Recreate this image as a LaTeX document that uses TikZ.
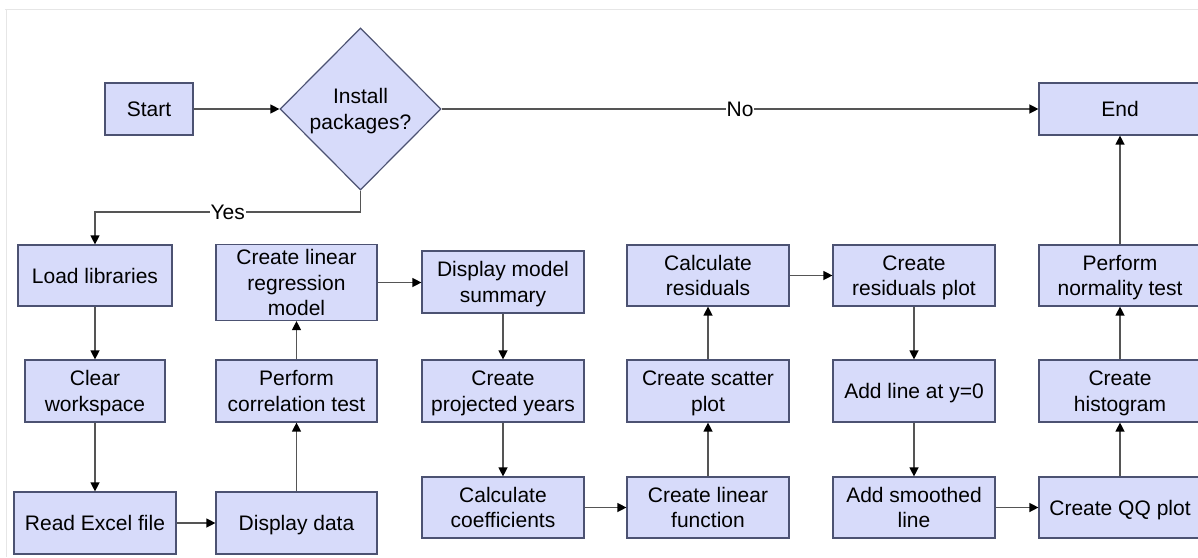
\documentclass[tikz,border=0pt]{standalone}
\usepackage{fontspec}
\setmainfont{Liberation Sans}
\usetikzlibrary{arrows.meta,shapes.geometric}

\definecolor{boxfill}{HTML}{D7DBFA}
\definecolor{boxline}{HTML}{4C5272}
\definecolor{flowline}{HTML}{555555}
\definecolor{framegray}{HTML}{E6E6E6}

% line strut whose height and depth are balanced around the capital letters
\newcommand\ls{\rule[-5pt]{0pt}{25pt}}

\tikzset{
  stepbox/.style={draw=boxline, fill=boxfill, line width=1.2pt, rectangle,
    inner sep=0pt, align=center, font=\fontsize{21}{25.5}\selectfont},
  decision/.style={draw=boxline, fill=boxfill, line width=1.2pt, diamond, aspect=1,
    inner sep=0pt, minimum width=161pt, minimum height=162pt, align=center,
    font=\fontsize{21}{25.5}\selectfont},
  flow/.style={draw=flowline, line width=1.3pt,
    -{Triangle[length=9pt,width=9pt,fill=black,color=black]}},
  edgelabel/.style={fill=white, inner sep=1pt, font=\fontsize{21}{25.5}\selectfont}
}

\begin{document}
\begin{tikzpicture}[x=1pt,y=-1pt]
\useasboundingbox (0,0) rectangle (1198,557);
\clip (0,0) rectangle (1198,557);
\fill[white] (0,0) rectangle (1198,557);
% thin page frame
\draw[framegray, line width=1pt] (5,9) -- (1198,9);
\draw[framegray, line width=1pt] (6,9) -- (6,557);

% top row
\node[stepbox, minimum width=88pt, minimum height=52pt] (start) at (149,109) {\ls Start\ls};
\node[decision] (dia) at (360.5,109) {\ls Install\\packages?\ls};
\node[stepbox, minimum width=162pt, minimum height=52pt] (end) at (1120,109) {\ls End\ls};

% column 1
\node[stepbox, minimum width=154pt, minimum height=61pt] (load) at (95,275.5) {\ls Load libraries\ls};
\node[stepbox, minimum width=140pt, minimum height=62pt] (clear) at (95,391) {\ls Clear\\workspace\ls};
\node[stepbox, minimum width=162pt, minimum height=62pt] (read) at (95,523) {\ls Read Excel file\ls};

% column 2
\node[stepbox, minimum width=161pt, minimum height=75pt] (lrm) at (296.5,282.5) {\ls Create linear\\regression\\model\ls};
\node[stepbox, minimum width=161pt, minimum height=62pt] (corr) at (296.5,391) {\ls Perform\\correlation test\ls};
\node[stepbox, minimum width=161pt, minimum height=62pt] (disp) at (296.5,523) {\ls Display data\ls};

% column 3
\node[stepbox, minimum width=162pt, minimum height=62pt] (summ) at (503,282) {\ls Display model\\summary\ls};
\node[stepbox, minimum width=162pt, minimum height=62pt] (proj) at (503,391) {\ls Create\\projected years\ls};
\node[stepbox, minimum width=162pt, minimum height=61pt] (coef) at (503,507.5) {\ls Calculate\\coefficients\ls};

% column 4
\node[stepbox, minimum width=162pt, minimum height=61pt] (resid) at (708,275.5) {\ls Calculate\\residuals\ls};
\node[stepbox, minimum width=162pt, minimum height=62pt] (scat) at (708,391) {\ls Create scatter\\plot\ls};
\node[stepbox, minimum width=162pt, minimum height=61pt] (linf) at (708,507.5) {\ls Create linear\\function\ls};

% column 5
\node[stepbox, minimum width=162pt, minimum height=61pt] (rplot) at (914,275.5) {\ls Create\\residuals plot\ls};
\node[stepbox, minimum width=162pt, minimum height=62pt] (addl) at (914,391) {\ls Add line at y=0\ls};
\node[stepbox, minimum width=162pt, minimum height=61pt] (smooth) at (914,507.5) {\ls Add smoothed\\line\ls};

% column 6
\node[stepbox, minimum width=162pt, minimum height=61pt] (norm) at (1120,275.5) {\ls Perform\\normality test\ls};
\node[stepbox, minimum width=162pt, minimum height=62pt] (hist) at (1120,391) {\ls Create\\histogram\ls};
\node[stepbox, minimum width=162pt, minimum height=61pt] (qq) at (1120,507.5) {\ls Create QQ plot\ls};

% connectors
\draw[flow] (start) -- (dia);
\draw[flow] (dia.east) -- node[edgelabel] {No} (end.west);
\draw[flow] (dia.south) -- (dia.south |- 0,212) -- node[edgelabel] {Yes} (load.north |- 0,212) -- (load.north);

\draw[flow] (load) -- (clear);
\draw[flow] (clear) -- (read);
\draw[flow] (read) -- (disp);
\draw[flow] (disp) -- (corr);
\draw[flow] (corr) -- (lrm);
\draw[flow] (lrm.east) -- (summ.west |- lrm.east);
\draw[flow] (summ) -- (proj);
\draw[flow] (proj) -- (coef);
\draw[flow] (coef) -- (linf);
\draw[flow] (linf) -- (scat);
\draw[flow] (scat) -- (resid);
\draw[flow] (resid) -- (rplot);
\draw[flow] (rplot) -- (addl);
\draw[flow] (addl) -- (smooth);
\draw[flow] (smooth) -- (qq);
\draw[flow] (qq) -- (hist);
\draw[flow] (hist) -- (norm);
\draw[flow] (norm) -- (end);
\end{tikzpicture}
\end{document}
